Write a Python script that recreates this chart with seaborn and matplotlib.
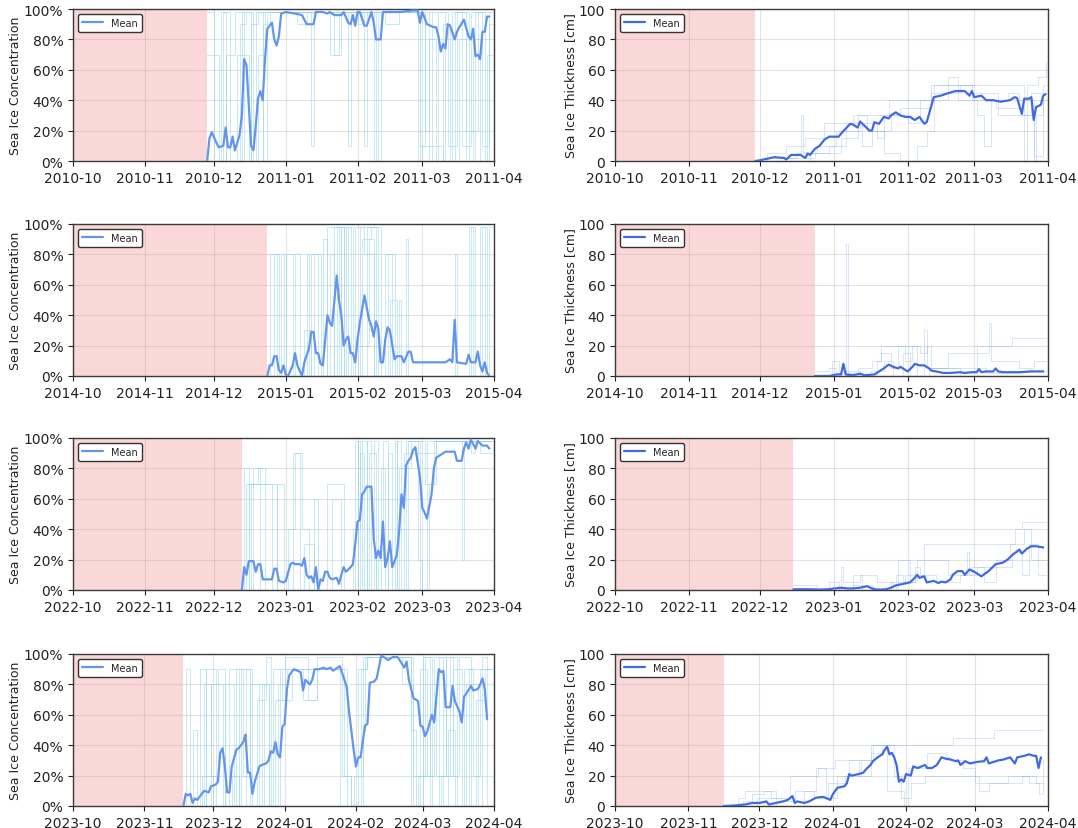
import pandas as pd
import matplotlib
matplotlib.use("Agg")
import matplotlib.pyplot as plt
import matplotlib.dates as mdates
from matplotlib.ticker import PercentFormatter
import seaborn as sns

sns.set_style("ticks")
plt.rcParams["font.family"] = ["DejaVu Sans"]

# Winter seasons shown, one row each (season starts 1 October)
seasons = [2010, 2014, 2022, 2023]

# ---- Sea ice concentration (%), ensemble mean: (day since 1 Oct, value) ----
conc_mean_2010 = [(58,0),(59,15),(60,19),(62,12),(63,9),(65,10),(66,22),(67,9),(68,9),(69,16),(70,7),(72,17),(73,30),(74,67),(75,63),(77,10),(78,7),(79,23),(80,41),(81,46),(82,40),(83,67),(84,87),(85,89),(86,91),(87,80),(88,76),(89,82),(90,97),(92,98),(96,97),(99,96),(101,90),(104,90),(105,98),(108,98),(110,97),(111,98),(113,96),(116,96),(117,98),(119,91),(120,90),(121,96),(122,89),(123,98),(124,98),(126,89),(127,89),(129,98),(130,91),(131,80),(133,80),(134,98),(138,98),(141,98),(147,99),(149,99),(150,91),(151,98),(153,90),(156,88),(157,88),(158,82),(159,72),(160,77),(161,74),(162,90),(163,89),(165,80),(166,85),(167,88),(169,93),(171,82),(172,80),(173,87),(174,69),(175,70),(176,67),(177,85),(178,85),(179,95),(180,95)]
conc_mean_2014 = [(84,0),(85,7),(86,7),(87,13),(88,13),(89,4),(90,2),(91,7),(92,1),(93,0),(95,7),(96,15),(97,7),(99,0),(100,9),(102,18),(103,29),(104,29),(105,15),(106,15),(107,8),(108,7),(110,40),(111,35),(112,33),(114,66),(115,50),(116,40),(117,20),(118,24),(119,26),(120,15),(121,15),(122,9),(123,24),(124,35),(126,53),(128,37),(129,33),(130,26),(131,36),(132,31),(133,9),(134,9),(135,24),(136,32),(137,30),(139,11),(140,13),(142,13),(143,9),(145,16),(146,16),(147,9),(149,9),(161,9),(163,11),(164,9),(165,37),(166,9),(170,8),(171,14),(172,9),(174,9),(175,16),(176,7),(177,3),(178,9),(179,2),(180,0)]
conc_mean_2022 = [(73,0),(74,15),(75,10),(76,19),(78,19),(79,12),(80,17),(81,17),(82,7),(86,7),(87,14),(88,14),(89,6),(91,5),(92,6),(94,17),(95,18),(96,17),(98,17),(99,16),(100,21),(101,10),(102,8),(103,9),(104,5),(105,15),(106,0),(107,7),(108,6),(109,12),(110,12),(111,8),(112,7),(114,8),(115,4),(116,10),(117,15),(118,12),(120,15),(121,17),(122,30),(123,45),(124,46),(125,63),(126,65),(127,68),(129,68),(130,34),(131,21),(132,26),(133,21),(134,45),(135,15),(136,21),(137,32),(138,15),(139,19),(140,23),(141,39),(142,63),(143,54),(144,82),(145,85),(146,87),(147,92),(148,94),(150,74),(151,54),(152,51),(153,47),(155,63),(156,80),(157,87),(159,89),(161,91),(165,91),(166,85),(168,85),(169,93),(170,97),(171,93),(172,99),(174,93),(175,98),(177,95),(179,95),(180,93)]
conc_mean_2023 = [(48,0),(49,8),(50,7),(51,8),(52,2),(53,5),(54,4),(56,8),(57,10),(59,9),(60,13),(62,14),(63,16),(64,35),(65,38),(66,26),(67,9),(68,9),(69,26),(71,37),(72,38),(74,42),(75,47),(76,22),(77,22),(78,8),(79,16),(81,26),(82,27),(84,28),(85,30),(86,36),(87,35),(88,42),(89,34),(90,32),(91,52),(92,54),(93,77),(94,86),(95,88),(96,90),(99,88),(100,76),(101,83),(103,80),(104,83),(105,90),(107,90),(109,91),(110,90),(112,91),(113,89),(115,91),(116,92),(118,83),(119,78),(120,62),(122,37),(123,26),(124,32),(125,32),(126,43),(127,53),(128,54),(129,81),(131,82),(132,84),(134,99),(135,98),(137,96),(139,98),(141,98),(142,96),(144,91),(145,95),(146,83),(147,77),(148,71),(150,69),(151,53),(152,52),(153,46),(154,49),(156,60),(157,55),(159,90),(160,88),(161,89),(162,65),(164,65),(165,79),(166,69),(168,62),(169,55),(170,72),(171,74),(173,79),(174,76),(176,77),(177,80),(178,84),(179,77),(180,57)]

# ---- Sea ice concentration (%), individual members: step change points ----
conc_members_2010 = [
    [(58,70),(63,0),(66,70),(70,98),(74,0),(77,90),(80,98),(103,10),(104,98),(119,10),(120,98),(130,0),(132,98),(150,10),(152,98),(155,0),(158,98),(162,10),(166,98),(171,0),(174,98),(178,0),(180,98),(181,98)],
    [(58,98),(61,0),(64,98),(66,0),(71,70),(76,0),(79,98),(82,0),(84,98),(111,70),(116,98),(126,10),(127,98),(135,90),(141,98),(149,0),(151,10),(157,0),(160,90),(163,0),(167,80),(170,0),(173,80),(176,0),(179,70),(181,70)],
    [(58,0),(65,98),(68,0),(72,90),(75,98),(78,0),(82,90),(85,98),(97,90),(101,98),(131,0),(133,98),(150,0),(154,80),(157,10),(160,0),(164,98),(168,10),(172,98),(177,10),(180,90),(181,90)],
    [(58,0),(70,0),(73,98),(77,0),(80,70),(83,98),(113,70),(115,98),(123,90),(125,98),(152,20),(154,98),(161,0),(165,98),(170,20),(175,98),(181,98)],
]
conc_members_2014 = [
    [(84,0),(85,80),(89,0),(92,80),(95,0),(103,80),(107,0),(113,98),(118,0),(122,98),(126,80),(130,0),(135,80),(138,0),(171,98),(173,0),(177,98),(179,0),(181,0)],
    [(84,0),(87,80),(88,0),(104,80),(106,0),(110,98),(115,0),(117,98),(120,0),(124,98),(133,0),(144,90),(145,0),(165,80),(166,0),(176,98),(178,0),(181,0)],
    [(84,0),(96,80),(98,0),(108,90),(110,0),(114,98),(116,0),(125,90),(129,98),(131,0),(136,80),(139,0),(181,0)],
    [(84,0),(100,30),(103,0),(111,80),(113,0),(119,98),(121,0),(127,98),(132,0),(137,50),(140,0),(172,98),(174,0),(180,98),(181,98)],
    [(84,0),(90,80),(91,0),(101,80),(102,0),(116,98),(117,0),(123,20),(128,90),(130,0),(141,50),(142,0),(181,0)],
]
conc_members_2022 = [
    [(73,0),(74,80),(76,0),(77,70),(86,0),(95,90),(99,40),(102,0),(123,98),(124,0),(127,98),(129,0),(133,80),(135,0),(140,98),(142,0),(145,98),(152,70),(157,98),(181,98)],
    [(73,0),(75,70),(84,70),(88,0),(93,40),(96,90),(98,0),(110,70),(117,0),(121,40),(124,90),(126,0),(130,98),(132,0),(136,90),(138,0),(143,90),(155,90),(157,98),(168,20),(169,98),(176,90),(181,90)],
    [(73,0),(78,80),(81,0),(88,70),(91,0),(104,60),(106,0),(125,98),(127,0),(131,20),(134,98),(136,0),(141,80),(146,98),(150,0),(153,98),(181,98)],
    [(73,0),(76,70),(80,80),(83,0),(100,30),(104,0),(112,60),(116,0),(122,98),(123,0),(128,90),(131,0),(139,98),(140,0),(144,98),(149,20),(151,0),(154,70),(156,98),(172,90),(174,98),(181,98)],
]
conc_members_2023 = [
    [(48,0),(49,90),(51,0),(55,90),(58,0),(60,80),(65,0),(68,90),(72,0),(75,90),(78,0),(83,80),(85,0),(90,90),(118,20),(121,0),(124,90),(128,98),(145,98),(147,0),(150,20),(153,98),(156,0),(159,98),(162,20),(165,90),(169,0),(172,90),(178,98),(180,0),(182,0)],
    [(48,0),(52,50),(54,0),(58,90),(62,0),(66,80),(70,0),(73,90),(77,0),(80,70),(84,98),(86,0),(89,80),(93,90),(100,70),(106,90),(116,0),(125,90),(128,98),(143,80),(148,0),(151,90),(154,20),(157,98),(161,0),(163,50),(166,0),(170,90),(174,20),(177,90),(182,90)],
    [(48,0),(57,80),(60,20),(63,90),(66,0),(71,90),(74,20),(77,80),(82,0),(87,90),(91,70),(95,90),(116,90),(119,0),(122,20),(126,98),(146,98),(148,20),(155,80),(158,20),(162,98),(165,20),(168,98),(173,0),(175,70),(179,90),(182,90)],
    [(48,0),(56,20),(61,0),(69,20),(72,0),(81,80),(85,0),(88,70),(92,98),(102,70),(106,98),(117,20),(121,0),(126,50),(127,98),(147,50),(149,0),(152,98),(155,0),(160,20),(164,98),(167,0),(171,80),(176,0),(178,90),(182,90)],
]

# ---- Sea ice thickness (cm), ensemble mean ----
thick_mean_2010 = [(59,0),(61,0.5),(67,2.5),(71,2),(72,1),(74,4),(78,4),(80,2),(81,5),(82,4),(84,8),(86,10),(88,14),(90,16),(94,16),(95,18),(98,23),(99,24.5),(100,24),(102,22),(103,26),(105,23),(107,20),(108,20),(109,25.5),(111,24.5),(113,29),(115,28),(116,30),(118,32),(120,30),(122,29),(124,29),(126,27),(128,29),(130,24.5),(131,25.5),(133,36.5),(134,42),(137,43),(140,44.6),(143,46),(147,46),(149,43),(150,46),(151,42),(154,43),(156,40),(159,40),(162,39),(166,40),(168,42),(169,41.5),(171,31),(172,41),(174,41),(175,42),(176,27),(177,35.5),(179,37),(180,43),(181,44)]
thick_mean_2014 = [(84,0),(90,0),(93,1),(95,1),(96,8),(97,1),(100,0.5),(103,1.5),(105,0.5),(109,1),(111,3),(113,5),(115,7.5),(117,6),(119,5),(120,6),(122,4),(123,3),(125,6),(126,8),(128,7),(130,7),(132,5),(133,3.5),(135,3),(138,2),(141,2),(145,2.5),(147,2),(150,2.5),(152,2.5),(153,4.5),(154,2.5),(156,3),(159,3),(160,5),(161,3),(163,2.5),(170,2.5),(175,3),(180,3)]
thick_mean_2022 = [(75,0.5),(80,0.5),(86,0.3),(90,0.5),(92,1),(95,1.5),(98,1),(100,1),(103,1.5),(106,2.5),(108,1),(110,0.3),(112,0.3),(114,0.5),(116,1.5),(118,3),(121,4),(124,5),(126,8),(127,10),(128,8),(130,9),(131,5),(134,6),(136,4.5),(137,5.5),(139,5),(141,7),(142,10),(144,12.4),(146,12.4),(147,10),(149,13.5),(151,12),(153,10),(154,9),(157,12.4),(160,17),(163,18),(165,20),(167,23),(170,26.6),(171,24),(173,27),(175,28.8),(177,28.8),(180,28)]
thick_mean_2023 = [(46,0),(51,0.4),(55,1),(58,2),(61,2),(64,3),(65,1),(68,2),(71,3),(73,4),(75,6.5),(76,2),(77,3),(80,2),(82,3),(85,5.5),(88,6),(91,4),(92,7.6),(94,12),(97,13),(98,15),(99,21),(100,20),(103,21),(105,22),(106,24),(108,27),(109,29.5),(111,32),(113,34),(114,37),(115,39),(116,34),(117,35),(118,32),(119,27),(120,16),(121,17.5),(122,16),(123,21),(125,20),(126,26),(128,25),(131,27),(132,25),(134,25),(136,27),(138,32),(140,31),(141,31),(142,30.5),(144,29.5),(145,30),(146,27),(148,29.5),(150,28),(153,29),(156,29.5),(157,32),(158,28),(160,29),(162,30),(164,30.5),(167,32),(169,28),(170,32),(173,33),(175,34),(177,33),(178,33),(179,25),(180,32)]

# ---- Sea ice thickness (cm), individual members ----
thick_members_2010 = [
    [(59,0),(64,5),(72,10),(80,15),(88,25),(100,30),(115,40),(133,50),(170,50),(172,0),(173,50),(178,55),(181,65)],
    [(59,0),(68,2),(76,5),(78,30),(79,5),(85,10),(93,20),(103,25),(110,15),(113,30),(120,35),(133,45),(145,50),(150,40),(160,35),(171,30),(175,45),(181,45)],
    [(60,0),(82,5),(90,10),(97,25),(104,10),(108,20),(113,5),(120,0),(127,10),(131,20),(134,40),(140,55),(144,40),(152,30),(155,10),(158,40),(165,45),(170,40),(176,3),(180,50),(181,50)],
    [(60,0),(70,2),(84,5),(95,15),(102,30),(106,20),(116,30),(123,25),(128,40),(134,50),(150,45),(161,30),(176,0),(177,30),(180,40),(181,40)],
]
thick_members_2014 = [
    [(84,0),(97,87),(98,0),(110,10),(112,20),(125,20),(128,15),(131,20),(133,5),(145,0),(152,20),(167,25),(181,25)],
    [(84,3),(90,5),(93,2),(102,5),(108,10),(112,15),(116,5),(119,20),(122,10),(125,20),(127,0),(130,30),(131,5),(140,15),(157,35),(158,10),(170,5),(176,10),(181,10)],
    [(84,0),(91,10),(94,3),(103,0),(107,3),(113,10),(117,0),(121,15),(124,0),(132,5),(146,5),(156,2),(170,3),(181,3)],
]
thick_members_2022 = [
    [(75,3),(85,0),(95,15),(96,5),(103,10),(110,5),(117,0),(119,20),(124,5),(127,20),(130,30),(155,30),(168,40),(171,45),(181,45)],
    [(75,0),(90,5),(94,0),(100,10),(104,0),(118,10),(121,5),(126,15),(128,10),(135,5),(145,10),(148,25),(149,10),(152,15),(160,20),(166,30),(172,40),(175,20),(181,20)],
    [(75,0),(100,3),(108,0),(116,5),(122,10),(130,20),(140,10),(150,15),(155,5),(160,15),(167,25),(171,10),(174,30),(178,10),(181,10)],
]
thick_members_2023 = [
    [(46,0),(52,5),(55,10),(66,5),(74,20),(86,25),(93,30),(109,40),(143,45),(160,50),(181,50)],
    [(46,0),(54,3),(58,8),(63,10),(68,0),(80,10),(85,25),(89,5),(94,20),(99,30),(103,20),(108,35),(113,40),(118,20),(121,5),(125,15),(131,20),(150,20),(154,10),(158,15),(166,20),(175,15),(179,8),(181,30)],
    [(47,0),(60,5),(70,3),(76,10),(84,5),(90,15),(97,20),(104,30),(108,40),(115,10),(122,0),(124,25),(132,35),(140,30),(147,25),(152,15),(165,15),(172,20),(178,15),(181,15)],
]

conc_means = [conc_mean_2010, conc_mean_2014, conc_mean_2022, conc_mean_2023]
conc_members = [conc_members_2010, conc_members_2014, conc_members_2022, conc_members_2023]
thick_means = [thick_mean_2010, thick_mean_2014, thick_mean_2022, thick_mean_2023]
thick_members = [thick_members_2010, thick_members_2014, thick_members_2022, thick_members_2023]


def to_frame(season, pairs):
    start = pd.Timestamp(f"{season}-10-01")
    df = pd.DataFrame(pairs, columns=["day", "value"])
    df["date"] = start + pd.to_timedelta(df["day"], unit="D")
    return df


def draw_panel(ax, season, mean_pairs, member_list, mean_color, member_color,
               member_alpha, ylabel, percent):
    start = pd.Timestamp(f"{season}-10-01")
    end = pd.Timestamp(f"{season + 1}-04-01")
    for pairs in member_list:
        mdf = to_frame(season, pairs)
        sns.lineplot(data=mdf, x="date", y="value", ax=ax, color=member_color,
                     alpha=member_alpha, lw=0.7, drawstyle="steps-post",
                     estimator=None, legend=False, zorder=2)
    mean_df = to_frame(season, mean_pairs)
    sns.lineplot(data=mean_df, x="date", y="value", ax=ax, color=mean_color,
                 lw=1.6, estimator=None, label="Mean", zorder=3)
    ax.axvspan(start, mean_df["date"].iloc[0], color="lightcoral", alpha=0.3,
               lw=0, zorder=1)
    ax.set_xlim(start, end)
    ax.set_ylim(0, 100)
    ax.xaxis.set_major_locator(mdates.MonthLocator())
    ax.xaxis.set_major_formatter(mdates.DateFormatter("%Y-%m"))
    ax.set_yticks([0, 20, 40, 60, 80, 100])
    if percent:
        ax.yaxis.set_major_formatter(PercentFormatter(100, decimals=0))
    ax.set_xlabel("")
    ax.set_ylabel(ylabel, fontsize=9, color="#222222", labelpad=1)
    ax.grid(True, color="#b0b0b0", alpha=0.35, lw=0.8)
    ax.set_axisbelow(True)
    for sp in ax.spines.values():
        sp.set_color("#3a3a3a")
        sp.set_linewidth(1.0)
    ax.tick_params(labelsize=10, colors="#222222", length=3.5)
    leg = ax.legend(loc="upper left", fontsize=7, frameon=True, fancybox=True,
                    framealpha=1.0, edgecolor="#333333", handlelength=2.2,
                    borderpad=0.4)
    leg.get_frame().set_linewidth(1.0)


fig = plt.figure(figsize=(10.78, 8.29), dpi=100)
W, H = 1078, 829
row_tops = [10, 225, 439, 655]
row_h = 152

for i, season in enumerate(seasons):
    bottom = 1 - (row_tops[i] + row_h) / H
    ax_c = fig.add_axes([73 / W, bottom, 421 / W, row_h / H])
    ax_t = fig.add_axes([615 / W, bottom, 433 / W, row_h / H])
    draw_panel(ax_c, season, conc_means[i], conc_members[i],
               mean_color="cornflowerblue", member_color="skyblue",
               member_alpha=0.45, ylabel="Sea Ice Concentration", percent=True)
    draw_panel(ax_t, season, thick_means[i], thick_members[i],
               mean_color="royalblue", member_color="cornflowerblue",
               member_alpha=0.25, ylabel="Sea Ice Thickness [cm]", percent=False)

fig.savefig("out.png", dpi=100)
